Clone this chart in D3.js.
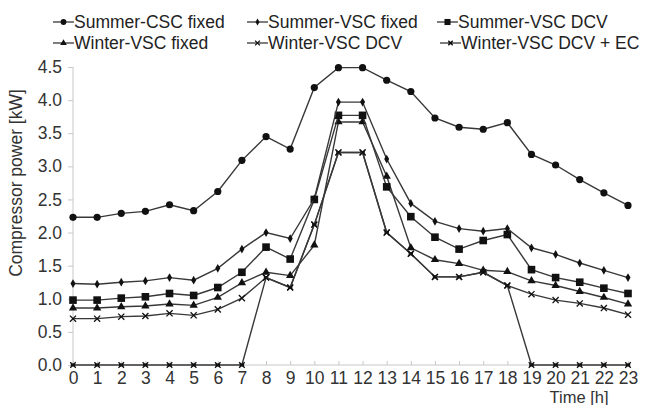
<!DOCTYPE html>
<html><head><meta charset="utf-8">
<script src="https://cdn.jsdelivr.net/npm/d3@7"></script>
<style>body{margin:0;background:#fff}svg{display:block}text{font-family:"Liberation Sans",Arial,sans-serif}</style>
</head><body><div id="chart"></div>
<script>
const hours = d3.range(0, 24);
const yTicks = [0, 0.5, 1.0, 1.5, 2.0, 2.5, 3.0, 3.5, 4.0, 4.5];
const seriesNames = ["Summer-CSC fixed","Summer-VSC fixed","Summer-VSC DCV","Winter-VSC fixed","Winter-VSC DCV","Winter-VSC DCV + EC"];
const summerCSCfixed = [2.23,2.23,2.29,2.32,2.42,2.33,2.62,3.09,3.45,3.26,4.19,4.49,4.49,4.30,4.13,3.73,3.59,3.56,3.66,3.18,3.02,2.80,2.60,2.41];
const summerVSCfixed = [1.23,1.22,1.25,1.27,1.32,1.28,1.46,1.75,2.00,1.91,2.51,3.97,3.97,3.11,2.44,2.17,2.06,2.02,2.06,1.77,1.67,1.54,1.43,1.32];
const summerVSCDCV = [0.98,0.98,1.01,1.03,1.08,1.05,1.17,1.40,1.78,1.60,2.50,3.77,3.77,2.69,2.24,1.93,1.75,1.88,1.97,1.44,1.32,1.25,1.16,1.08];
const winterVSCfixed = [0.86,0.86,0.88,0.89,0.92,0.90,1.02,1.24,1.40,1.35,1.81,3.67,3.67,2.85,1.77,1.59,1.53,1.43,1.41,1.27,1.20,1.11,1.02,0.92];
const winterVSCDCV = [0.70,0.70,0.73,0.74,0.78,0.75,0.84,1.01,1.32,1.17,2.12,3.21,3.21,2.00,1.68,1.33,1.33,1.40,1.20,1.07,0.98,0.93,0.86,0.76];
const winterVSCDCVEC = [0,0,0,0,0,0,0,0,1.32,1.17,2.12,3.21,3.21,2.00,1.68,1.33,1.33,1.40,1.20,0,0,0,0,0];
const seriesValues = [summerCSCfixed, summerVSCfixed, summerVSCDCV, winterVSCfixed, winterVSCDCV, winterVSCDCVEC];

const W = 646, H = 405;
const svg = d3.select("#chart").append("svg").attr("width", W).attr("height", H);
const x = d3.scaleLinear().domain([0, 23]).range([73, 628]);
const y = d3.scaleLinear().domain([0, 4.5]).range([365, 67]);
const lineCol = "#383838", axisCol = "#c8c8c8", textCol = "#333";
const FS = "17.5px";

// axes
const yAxis = svg.append("g").attr("transform", "translate(73,0)")
  .call(d3.axisLeft(y).tickValues(yTicks).tickFormat(d3.format(".1f")).tickSize(5).tickPadding(6));
yAxis.select(".domain").attr("stroke", axisCol).attr("d", "M0," + y(4.5) + "V" + y(0));
yAxis.selectAll(".tick line").attr("stroke", axisCol);
yAxis.selectAll(".tick text").attr("fill", textCol).style("font-size", FS).attr("font-family", null);

const xAxis = svg.append("g").attr("transform", "translate(0,365)")
  .call(d3.axisBottom(x).tickValues(hours).tickFormat(d3.format("d")).tickSize(-4).tickPadding(7));
xAxis.select(".domain").attr("stroke", axisCol).attr("d", "M73,0H630");
xAxis.selectAll(".tick line").attr("stroke", axisCol);
xAxis.selectAll(".tick text").attr("fill", textCol).style("font-size", FS).attr("font-family", null);

svg.append("text").attr("x", 579).attr("y", 403).attr("text-anchor", "middle")
  .attr("fill", textCol).style("font-size", "16.5px").text("Time [h]");
svg.append("text").attr("transform", "translate(22,183) rotate(-90)").attr("text-anchor", "middle")
  .attr("fill", textCol).style("font-size", FS).text("Compressor power [kW]");

// markers
function drawMarker(g, i, cx, cy, s) {
  s = s || 1;
  if (i === 0) g.append("circle").attr("cx", cx).attr("cy", cy).attr("r", 3.6 * s).attr("fill", "#111");
  else if (i === 1) g.append("path").attr("d", d3.symbol(d3.symbolDiamond, 22 * s * s)()).attr("transform", `translate(${cx},${cy})`).attr("fill", "#111");
  else if (i === 2) g.append("rect").attr("x", cx - 3.8 * s).attr("y", cy - 3.8 * s).attr("width", 7.6 * s).attr("height", 7.6 * s).attr("fill", "#111");
  else if (i === 3) g.append("path").attr("d", d3.symbol(d3.symbolTriangle, 30 * s * s)()).attr("transform", `translate(${cx},${cy})`).attr("fill", "#111");
  else if (i === 4) g.append("path").attr("d", d3.symbol(d3.symbolTimes, 26 * s * s)()).attr("transform", `translate(${cx},${cy})`).attr("fill", "none").attr("stroke", "#111").attr("stroke-width", 1.3);
  else {
    g.append("path").attr("d", d3.symbol(d3.symbolTimes, 22 * s * s)()).attr("transform", `translate(${cx},${cy})`).attr("fill", "none").attr("stroke", "#111").attr("stroke-width", 1.3);
    g.append("rect").attr("x", cx - 2.2 * s).attr("y", cy - 1.5 * s).attr("width", 4.4 * s).attr("height", 3 * s).attr("fill", "#111");
  }
}

const line = d3.line().x((d, i) => x(hours[i])).y(d => y(d));
const order = [5, 4, 3, 2, 1, 0];
order.forEach(si => {
  const g = svg.append("g");
  g.append("path").datum(seriesValues[si]).attr("d", line).attr("fill", "none")
    .attr("stroke", lineCol).attr("stroke-width", 1.4);
  seriesValues[si].forEach((v, i) => drawMarker(g, si, x(hours[i]), y(v)));
});

// legend
const legPos = [[53, 22], [247, 22], [437, 22], [53, 43], [247, 43], [440, 43]];
seriesNames.forEach((name, i) => {
  const [lx, ly] = legPos[i];
  const g = svg.append("g");
  g.append("line").attr("x1", lx).attr("x2", lx + 21).attr("y1", ly).attr("y2", ly).attr("stroke", lineCol).attr("stroke-width", 1.3);
  drawMarker(g, i, lx + 10.5, ly, 0.8);
  g.append("text").attr("x", lx + 21).attr("y", ly).attr("dy", "0.35em").attr("fill", "#222")
    .style("font-size", FS).text(name);
});
</script></body></html>
